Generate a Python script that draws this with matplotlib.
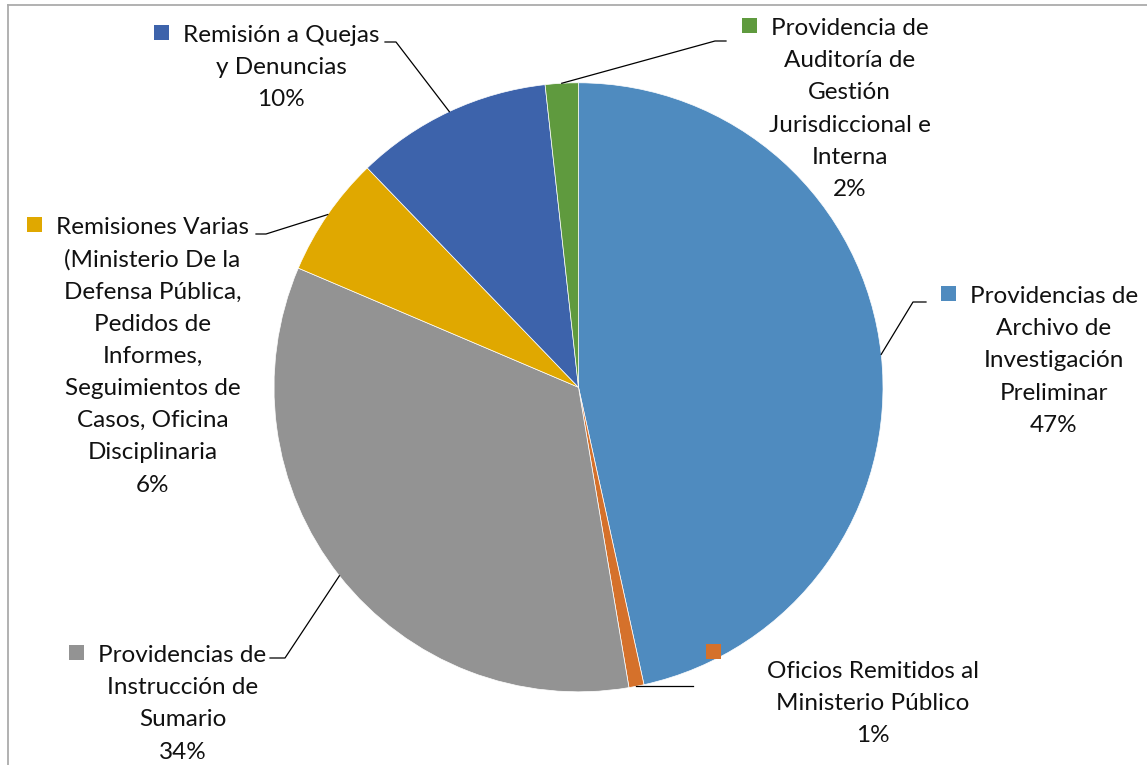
import matplotlib
matplotlib.use("Agg")
import matplotlib.pyplot as plt
from matplotlib.lines import Line2D
from matplotlib.patches import Rectangle
import numpy as np

# slice data, clockwise from 12 o'clock
names = [
    ["Providencias de", "Archivo de", "Investigación", "Preliminar"],
    ["Oficios Remitidos al", "Ministerio Público"],
    ["Providencias de", "Instrucción de", "Sumario"],
    ["Remisiones Varias", "(Ministerio De la", "Defensa Pública,", "Pedidos de",
     "Informes,", "Seguimientos de", "Casos, Oficina", "Disciplinaria"],
    ["Remisión a Quejas", "y Denuncias"],
    ["Providencia de", "Auditoría de", "Gestión", "Jurisdiccional e", "Interna"],
]
values = [46.55, 0.8, 34.05, 6.4, 10.45, 1.75]
colors = ["#4F8BBF", "#D5712B", "#939393", "#E0A800", "#3D63AB", "#5F9A3E"]

W, H = 1147, 765
CX, CY, R = 578.5, 387.3, 304.5

# label layout in pixel coords (y from top): text centre x, first baseline,
# leader elbow and end, optional fixed key square centre
layout = [
    dict(x=1054, y=303, elbow=(913, 302), end=(926, 302)),
    dict(x=873, y=677.7, elbow=None, end=(693, 687), key=(713.5, 651.5)),
    dict(x=182.5, y=662, elbow=(285, 658), end=(270, 658)),
    dict(x=152.5, y=234, elbow=(266, 234), end=(256, 234)),
    dict(x=281, y=41.7, elbow=(396, 42), end=(385, 42)),
    dict(x=849.5, y=35, elbow=(715, 41), end=(726, 41)),
]
LSTEP = 32.2
KEY = 15

plt.rcParams['font.family'] = ['Lato', 'DejaVu Sans']

fig = plt.figure(figsize=(W / 100, H / 100), dpi=100)
ax = fig.add_axes([0, 0, 1, 1])


def P(x, y):
    return x, H - y


wedges, _ = ax.pie(values, colors=colors, startangle=90, counterclock=False,
                   center=P(CX, CY), radius=R, frame=True,
                   wedgeprops=dict(linewidth=0.5, edgecolor="white"))
ax.set_xlim(0, W)
ax.set_ylim(0, H)
ax.axis("off")

# chart frame (runs off the right and bottom edges)
fig.add_artist(Line2D([8 / W, 8 / W], [0, 1 - 5 / H], color="#ABABAB", lw=1.3))
fig.add_artist(Line2D([8 / W, 1], [1 - 5 / H, 1 - 5 / H], color="#ABABAB", lw=1.3))

renderer = fig.canvas.get_renderer()
fs = 17.5
for w, nm, v, lay, col in zip(wedges, names, values, layout, colors):
    lines = nm + [f"{v:.0f}%"]
    first = None
    for i, ln in enumerate(lines):
        t = ax.text(*P(lay["x"], lay["y"] + i * LSTEP), ln, ha="center", va="baseline",
                    fontsize=fs, color="#111111")
        if i == 0:
            first = t
    # key square
    if "key" in lay:
        kx, ky = lay["key"]
    else:
        bb = first.get_window_extent(renderer)
        kx, ky = bb.x0 - 14 - KEY / 2, lay["y"] - 9.5
    ax.add_patch(Rectangle(P(kx - KEY / 2, ky + KEY / 2), KEY, KEY, color=col, lw=0))
    # leader line from wedge middle
    th = np.deg2rad((w.theta1 + w.theta2) / 2)
    ax_, ay_ = w.center[0] + R * np.cos(th), w.center[1] + R * np.sin(th)
    pts = [(ax_, ay_)]
    if lay["elbow"] is not None:
        pts.append(P(*lay["elbow"]))
        pts.append(P(*lay["end"]))
    else:
        pts.append((lay["end"][0], ay_))
    xs, ys = zip(*pts)
    ax.plot(xs, ys, color="black", lw=0.9)

fig.savefig("out.png", dpi=100)
